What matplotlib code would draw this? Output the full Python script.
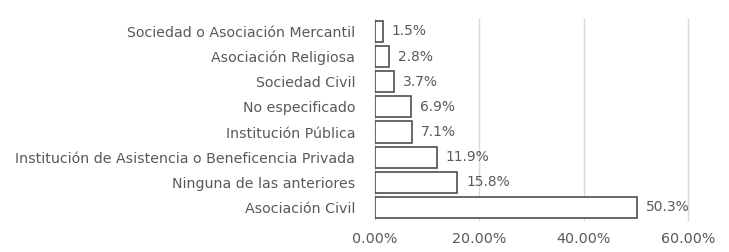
import matplotlib
matplotlib.use("Agg")
import matplotlib.pyplot as plt
from matplotlib.ticker import FuncFormatter

categories = ["Asociación Civil", "Ninguna de las anteriores",
              "Institución de Asistencia o Beneficencia Privada",
              "Institución Pública", "No especificado", "Sociedad Civil",
              "Asociación Religiosa", "Sociedad o Asociación Mercantil"]
values = [50.3, 15.8, 11.9, 7.1, 6.9, 3.7, 2.8, 1.5]
xticks = [0, 20, 40, 60]

plt.rcParams['font.family'] = ['DejaVu Sans']
fig = plt.figure(figsize=(7.29, 2.52), dpi=100)
ax = fig.add_axes([0.514, 0.127, 0.430, 0.798])
y = list(range(len(categories)))
ax.barh(y, values, height=0.84, color='white', edgecolor='#404040', linewidth=1.1, zorder=3)
for yi, v in zip(y, values):
    ax.text(v + 1.7, yi, f"{v}%", va='center', ha='left', fontsize=9.9, color='#595959')
ax.set_xlim(0, 60)
ax.set_ylim(-0.5, len(categories) - 0.5)
ax.set_xticks(xticks)
ax.xaxis.set_major_formatter(FuncFormatter(lambda v, p: f"{v:.2f}%"))
ax.set_yticks(y)
ax.set_yticklabels(categories)
ax.tick_params(axis='y', length=0, labelsize=10.2, labelcolor='#595959', pad=14)
ax.tick_params(axis='x', length=0, labelsize=10.3, labelcolor='#595959', pad=9)
ax.grid(axis='x', color='#d9d9d9', linewidth=1, zorder=0)
for line in ax.get_xgridlines():
    line.set_clip_on(False)
for s in ['top', 'right', 'bottom']:
    ax.spines[s].set_visible(False)
ax.spines['left'].set_color('#d9d9d9')
fig.savefig("out.png", dpi=100)
